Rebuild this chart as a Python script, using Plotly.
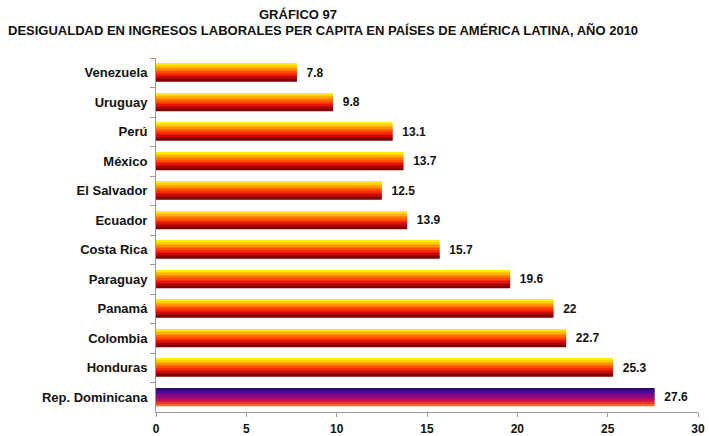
import plotly.graph_objects as go

# Desigualdad en ingresos laborales per cápita, 2010 (orden de arriba hacia abajo)
paises = ["Venezuela", "Uruguay", "Perú", "México", "El Salvador", "Ecuador",
          "Costa Rica", "Paraguay", "Panamá", "Colombia", "Honduras", "Rep. Dominicana"]
valores = [7.8, 9.8, 13.1, 13.7, 12.5, 13.9, 15.7, 19.6, 22, 22.7, 25.3, 27.6]
etiquetas = ["7.8", "9.8", "13.1", "13.7", "12.5", "13.9", "15.7", "19.6", "22", "22.7", "25.3", "27.6"]
ticks_x = [0, 5, 10, 15, 20, 25, 30]

# Bandas de color de cada barra, de arriba hacia abajo
banda_calida = ["#FFEA10", "#FFD000", "#FFB000", "#FF9000", "#FF7000", "#FF4E00",
                "#F52E08", "#E41410", "#C80C0C", "#A40404", "#7E0000"]
banda_fria = ["#2C0A70", "#3A0A88", "#4E0A90", "#640A90", "#7C0A8A", "#940A7C",
              "#AC0A6A", "#C41052", "#DC1A3C", "#EE3424", "#FF6A20"]
destacado = "Rep. Dominicana"

FUENTE = "Liberation Sans, Arial"
ANCHO = 0.6
n = len(banda_calida)
fig = go.Figure()
for i in range(n):
    colores = [banda_fria[i] if p == destacado else banda_calida[i] for p in paises]
    fig.add_trace(go.Bar(
        x=valores, y=paises, orientation="h",
        width=ANCHO / n + 0.004, offset=-ANCHO / 2 + i * ANCHO / n,
        marker=dict(color=colores, line=dict(width=0)),
        hoverinfo="skip", showlegend=False,
    ))

# Etiquetas de valor junto al extremo de cada barra
fig.add_trace(go.Bar(
    x=valores, y=paises, orientation="h", width=ANCHO, offset=-ANCHO / 2,
    marker=dict(color="rgba(0,0,0,0)", line=dict(width=0)),
    text=["  " + t for t in etiquetas], textposition="outside", cliponaxis=False,
    textfont=dict(family=FUENTE, size=12, color="#111111", weight="bold"),
    hoverinfo="skip", showlegend=False,
))

L, R, T, B = 156, 11, 58, 24
fig.update_layout(
    width=709, height=436, barmode="overlay",
    margin=dict(l=L, r=R, t=T, b=B),
    paper_bgcolor="white", plot_bgcolor="white",
    font=dict(family=FUENTE, size=12, color="#111111"),
    xaxis=dict(range=[0, 30], tickvals=ticks_x, showgrid=False, zeroline=False,
               automargin=False,
               showline=True, linecolor="#9A9A9A", linewidth=1,
               ticks="outside", ticklen=4, tickcolor="#9A9A9A",
               tickfont=dict(size=12, weight="bold"), ticklabelstandoff=2),
    yaxis=dict(autorange="reversed", type="category", showgrid=False, zeroline=False,
               automargin=False,
               showline=True, linecolor="#9A9A9A", linewidth=1,
               ticks="outside", ticklen=5, tickcolor="#9A9A9A", tickson="boundaries",
               tickfont=dict(size=13, weight="bold"), ticklabelstandoff=5),
)

# Título en dos líneas, ubicado en píxeles de la página
pw = 709 - L - R
ph = 436 - T - B
titulos = [("<b>GRÁFICO 97</b>", 298, 14),
           ("<b>DESIGUALDAD EN INGRESOS LABORALES PER CAPITA EN PAÍSES DE AMÉRICA LATINA, AÑO 2010</b>", 323, 31)]
for texto, px, py in titulos:
    fig.add_annotation(text=texto, x=(px - L) / pw, y=(436 - B - py) / ph,
                       xref="paper", yref="paper", xanchor="center", yanchor="middle",
                       showarrow=False, font=dict(size=13))

fig.write_html("out.html")
